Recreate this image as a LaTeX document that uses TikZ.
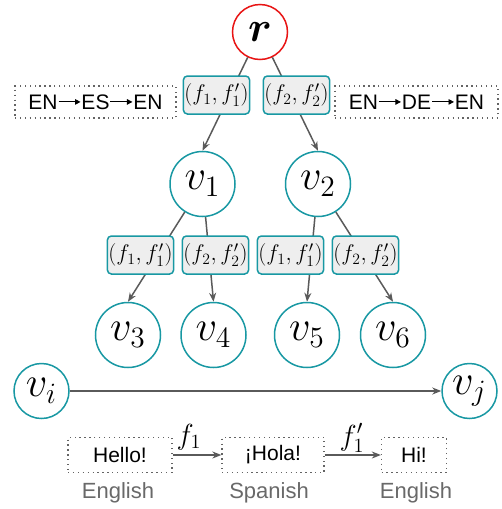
\documentclass[tikz,border=0pt]{standalone}
\usepackage{amsmath}
\usepackage{graphicx}
\usepackage{fontspec}
\newfontfamily\sansf{Liberation Sans}
\usetikzlibrary{arrows.meta}
\definecolor{tealc}{RGB}{24,152,163}
\definecolor{redc}{RGB}{232,20,20}
\definecolor{boxgray}{RGB}{238,238,238}
\definecolor{linec}{RGB}{90,90,90}
\definecolor{dotc}{RGB}{100,100,100}
\definecolor{langc}{RGB}{105,105,105}
\newcommand{\rarr}{\kern0.5pt\tikz[baseline=-7.3pt,x=1pt,y=1pt]\draw[line width=0.9pt,-{Triangle[length=5.5pt,width=5.5pt]}] (0,0) -- (22,0);\kern0.5pt}
\newcommand{\bigv}[1]{\scalebox{2.05}{$#1$}}
\newcommand{\edgem}[1]{\scalebox{1.09}{$#1$}}
\newcommand{\fm}[1]{\scalebox{1.4}{$#1$}}
\begin{document}
\begin{tikzpicture}[x=1pt,y=-1pt,
  circ/.style={circle,draw=tealc,line width=1.5pt,fill=white,inner sep=0pt,minimum size=65pt,font=\fontsize{20.74}{24}\selectfont},
  small/.style={minimum size=55pt},
  lbl/.style={rectangle,rounded corners=4pt,draw=tealc,fill=boxgray,line width=1.5pt,minimum width=65pt,minimum height=38pt,inner sep=1pt,font=\fontsize{20.74}{24}\selectfont},
  dbox/.style={draw=dotc,line width=1.3pt,dash pattern=on 1.3pt off 3.6pt,inner sep=0pt,font=\sansf\fontsize{21}{23}\selectfont},
  lang/.style={text=langc,inner sep=0pt,font=\sansf\fontsize{22}{24}\selectfont},
  flab/.style={inner sep=0pt,font=\fontsize{20.74}{24}\selectfont},
  edge/.style={draw=linec,line width=1.5pt},
  arr/.style={edge,-{Stealth[length=9pt,width=7pt]}},
]
\useasboundingbox (0,0) rectangle (502,509);
% tree nodes
\node[circ,small,draw=redc] (r) at (260,32) {\scalebox{2.05}{$\boldsymbol{r}$}};
\node[circ] (v1) at (202.5,184) {\bigv{v_1}};
\node[circ] (v2) at (318,184) {\bigv{v_2}};
\node[circ] (v3) at (128,335) {\bigv{v_3}};
\node[circ] (v4) at (213.5,335) {\bigv{v_4}};
\node[circ] (v5) at (307,335) {\bigv{v_5}};
\node[circ] (v6) at (393,335) {\bigv{v_6}};
% edges
\draw[arr] (r) -- (v1.north);
\draw[arr] (r) -- (v2.north);
\draw[arr] (v1) -- (v3.north);
\draw[arr] (v1) -- (v4.north);
\draw[arr] (v2) -- (v5.north);
\draw[arr] (v2) -- (v6.north);
% edge labels
\node[lbl] (b1) at (216.5,95) {\edgem{(f_1,f_1')}};
\node[lbl] (b2) at (296.5,95) {\edgem{(f_2,f_2')}};
\node[lbl] (c1) at (140.5,255) {\edgem{(f_1,f_1')}};
\node[lbl] (c2) at (215.5,255) {\edgem{(f_2,f_2')}};
\node[lbl] (c3) at (290.5,255) {\edgem{(f_1,f_1')}};
\node[lbl] (c4) at (365.5,255) {\edgem{(f_2,f_2')}};
% language paths
\node[dbox,minimum width=161pt,minimum height=32pt] (p1) at (95.5,102) {EN\rarr ES\rarr EN};
\node[dbox,minimum width=163pt,minimum height=32pt] (p2) at (416.5,102) {EN\rarr DE\rarr EN};
% vi -> vj
\node[circ,small] (vi) at (41.5,391) {\bigv{v_i}};
\node[circ,small] (vj) at (469.5,391) {\bigv{v_j}};
\draw[arr] (vi) -- (vj);
% example
\node[dbox,minimum width=104pt,minimum height=35pt] (h1) at (120,455) {Hello!};
\node[dbox,minimum width=102pt,minimum height=35pt] (h2) at (273,455) {¡Hola!};
\node[dbox,minimum width=65pt,minimum height=35pt] (h3) at (414,455) {Hi!};
\draw[arr] (h1) -- (h2);
\draw[arr] (h2) -- (h3);
\node[flab] (f1) at (189,437) {\fm{f_1}};
\node[flab] (f2) at (352,438) {\fm{f_1'}};
\node[lang] (l1) at (118,493) {English};
\node[lang] (l2) at (269,493) {Spanish};
\node[lang] (l3) at (416,493) {English};
\end{tikzpicture}
\end{document}
